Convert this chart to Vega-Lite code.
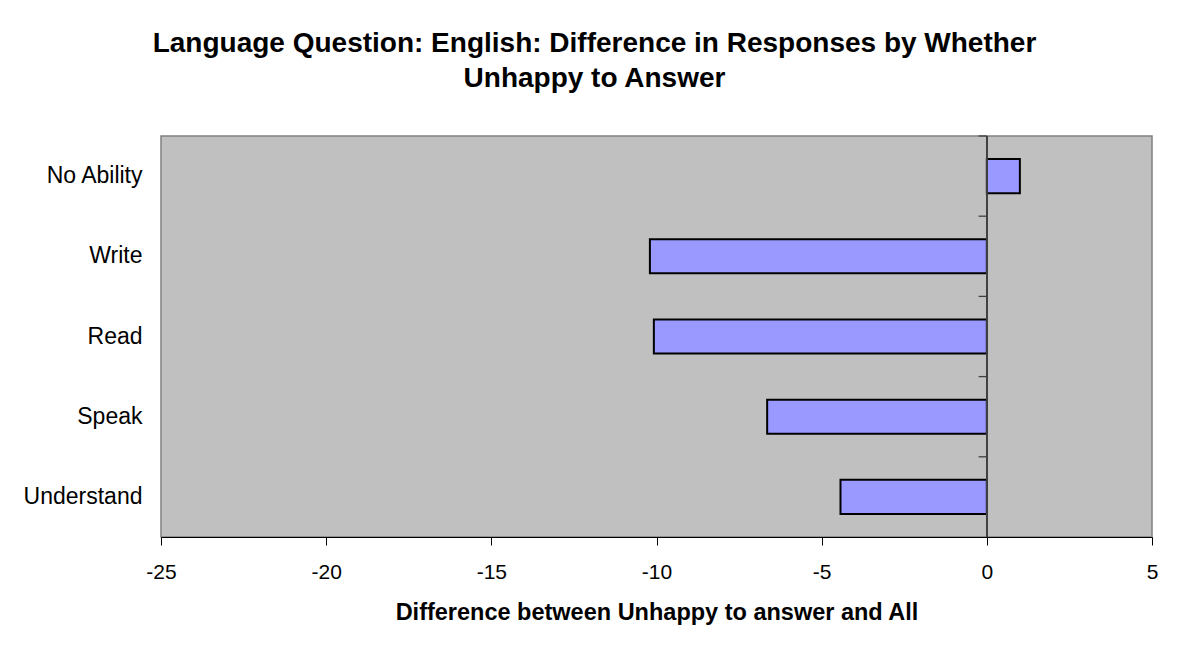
{
  "$schema": "https://vega.github.io/schema/vega-lite/v6.json",
  "autosize": {"type": "none"},
  "width": 991,
  "height": 401,
  "padding": {"left": 161, "top": 136, "right": 35, "bottom": 117},
  "background": "white",
  "title": {
    "text": ["Language Question: English: Difference in Responses by Whether", "Unhappy to Answer"],
    "font": "Liberation Sans",
    "fontSize": 28,
    "fontWeight": "bold",
    "lineHeight": 35.5,
    "anchor": "middle",
    "dx": -62,
    "offset": 42,
    "color": "black"
  },
  "config": {
    "view": {"fill": "#C0C0C0", "stroke": "#808080", "strokeWidth": 1.5},
    "font": "Liberation Sans"
  },
  "data": {
    "values": [
      {"category": "No Ability", "value": 1.0},
      {"category": "Write", "value": -10.2},
      {"category": "Read", "value": -10.08},
      {"category": "Speak", "value": -6.65},
      {"category": "Understand", "value": -4.43}
    ]
  },
  "layer": [
    {
      "mark": {"type": "rule", "color": "#404040", "strokeWidth": 1.3},
      "encoding": {
        "y": {
          "field": "category",
          "type": "nominal",
          "sort": ["No Ability", "Write", "Read", "Speak", "Understand"],
          "bandPosition": -0.6765,
          "scale": {"paddingInner": 0.575, "paddingOuter": 0.2875},
          "axis": {
            "title": null,
            "ticks": false,
            "domain": false,
            "labelPadding": 19,
            "labelFontSize": 23,
            "labelColor": "black",
            "labelFont": "Liberation Sans"
          }
        },
        "x": {"datum": -0.25},
        "x2": {"datum": 0}
      }
    },
    {
      "mark": {"type": "bar", "fill": "#9999FF", "stroke": "black", "strokeWidth": 2},
      "encoding": {
        "y": {
          "field": "category",
          "type": "nominal",
          "sort": ["No Ability", "Write", "Read", "Speak", "Understand"]
        },
        "x": {
          "field": "value",
          "type": "quantitative",
          "scale": {"domain": [-25, 5], "nice": false, "zero": false},
          "axis": {
            "title": "Difference between Unhappy to answer and All",
            "values": [-25, -20, -15, -10, -5, 0, 5],
            "labelExpr": "toString(datum.value)",
            "labelFlush": false,
            "grid": false,
            "domainColor": "black",
            "domainWidth": 1.2,
            "tickColor": "black",
            "tickSize": 8,
            "labelFontSize": 21,
            "labelColor": "black",
            "labelPadding": 16,
            "labelFont": "Liberation Sans",
            "titleFont": "Liberation Sans",
            "titleFontSize": 23.5,
            "titleFontWeight": "bold",
            "titleColor": "black",
            "titlePadding": 18
          }
        }
      }
    },
    {
      "mark": {"type": "rule", "color": "#404040", "strokeWidth": 1.3},
      "encoding": {"x": {"datum": 0}}
    }
  ]
}
